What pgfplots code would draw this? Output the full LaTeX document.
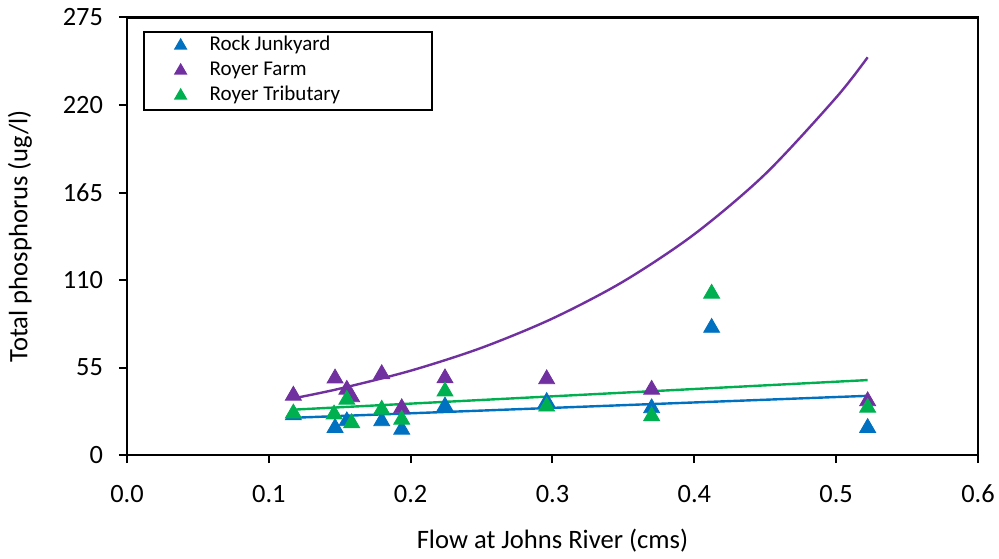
\documentclass[border=0pt]{standalone}
\usepackage{fontspec}
\setmainfont{Carlito}
\usepackage{pgfplots}
\pgfplotsset{compat=1.18}
\definecolor{rj}{RGB}{0,112,192}
\definecolor{rf}{RGB}{112,48,160}
\definecolor{rt}{RGB}{0,176,80}
\begin{document}
\begin{tikzpicture}
\begin{axis}[
  name=ax,
  scale only axis, width=425.5pt, height=218.75pt,
  xmin=0, xmax=0.6, ymin=0, ymax=275,
  xtick={0,0.1,0.2,0.3,0.4,0.5,0.6},
  ytick={0,55,110,165,220,275},
  xticklabel style={yshift=-7.5pt, /pgf/number format/fixed, /pgf/number format/fixed zerofill, /pgf/number format/precision=1},
  yticklabel style={xshift=-4.5pt},
  /pgf/number format/assume math mode=true,
  tick align=outside, tick pos=left, major tick length=4pt,
  axis line style={line width=1.25pt},
  tick style={line width=1pt, black},
  every tick label/.append style={font=\fontsize{13.2}{15}\selectfont},
  xlabel={Flow at Johns River (cms)},
  ylabel={Total phosphorus (ug/l)},
  label style={font=\fontsize{13.3}{16}\selectfont},
  xlabel style={at={(axis description cs:0.5,-0.1966)}, anchor=center},
  ylabel style={at={(axis description cs:-0.1257,0.5)}, anchor=center},
  legend cell align=left,
  legend style={at={(rel axis cs:0.0184,0.97)}, anchor=north west,
    draw=black, line width=1pt, font=\fontsize{10.5}{12}\selectfont,
    inner xsep=8pt, inner ysep=1.5pt, row sep=1.5pt, column sep=3pt,
    nodes={inner sep=1pt, text height=7pt, text depth=2pt}},
  legend image code/.code={\path (0pt,0pt) (21pt,0pt); \draw[#1, mark size=2.9pt] plot coordinates {(10.5pt,0pt)};},
]
\addplot[only marks, mark=triangle*, mark size=4.6pt, color=rj, draw=none] coordinates {
(0.1173,25) (0.1467,17.1) (0.1550,21.3) (0.1796,21.3) (0.1937,16)
(0.2242,30.6) (0.2959,33.4) (0.3699,29.5) (0.4122,80) (0.5222,17.1)};
\addlegendentry{\makebox[102pt][l]{Rock Junkyard}}
\addplot[only marks, mark=triangle*, mark size=4.6pt, color=rf, draw=none] coordinates {
(0.1173,37.4) (0.1467,48.2) (0.1550,41.1) (0.1584,36.4) (0.1796,50.9)
(0.1937,29.5) (0.2242,48.3) (0.2959,47.7) (0.3699,41.1) (0.5222,33.9)};
\addlegendentry{\makebox[102pt][l]{Royer Farm}}
\addplot[only marks, mark=triangle*, mark size=4.6pt, color=rt, draw=none] coordinates {
(0.1173,26.2) (0.1460,25.6) (0.1550,34.8) (0.1584,20.1) (0.1796,28.6)
(0.1937,22.3) (0.2242,40) (0.2959,30.5) (0.3699,24.5) (0.4122,101.5) (0.5222,29.8)};
\addlegendentry{\makebox[102pt][l]{Royer Tributary}}
% trend lines
\addplot[forget plot, color=rj, line width=1.2pt, no marks] coordinates {(0.1173,23.4) (0.5222,37.2)};
\addplot[forget plot, color=rf, line width=1.2pt, no marks, smooth] coordinates {
(0.1173,35.6) (0.15,41.7) (0.2,53.0) (0.25,67.4) (0.3,85.8) (0.35,109.1)
(0.4,138.8) (0.45,176.6) (0.5,224.7) (0.5222,250)};
\addplot[forget plot, color=rt, line width=1.2pt, no marks] coordinates {(0.1173,28.5) (0.5222,47.1)};
\end{axis}
\pgfresetboundingbox
\path ([shift={(-63.5pt,-51.5pt)}]ax.south west) rectangle ([shift={(10.5pt,8.75pt)}]ax.north east);
\end{tikzpicture}
\end{document}
